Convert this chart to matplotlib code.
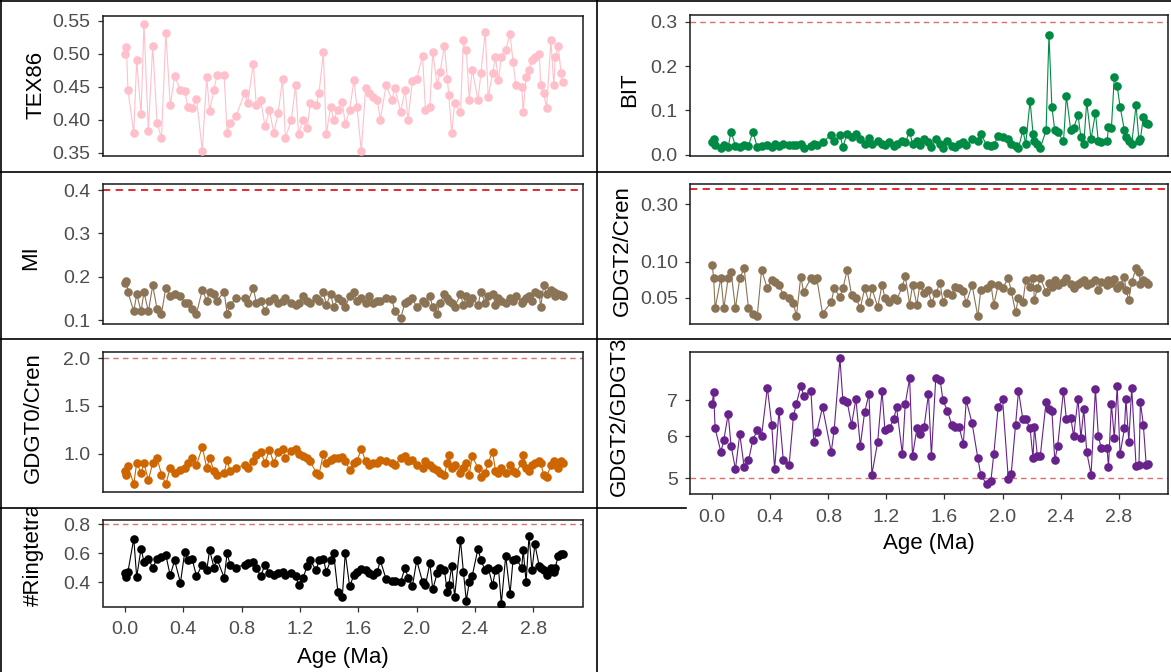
import matplotlib
matplotlib.use('Agg')
import matplotlib.pyplot as plt
from matplotlib.lines import Line2D
from matplotlib.transforms import Bbox, TransformedBbox
from matplotlib.ticker import FixedLocator, FixedFormatter, NullLocator

plt.rcParams['font.family'] = ['Liberation Sans', 'DejaVu Sans']

W, H = 1171, 672

# sample ages (Ma), shared by all proxies
age = [0.00, 0.01, 0.02, 0.06, 0.08, 0.11, 0.13, 0.16, 0.19, 0.22,
       0.25, 0.28, 0.31, 0.34, 0.38, 0.41, 0.43, 0.46, 0.49, 0.53,
       0.56, 0.58, 0.61, 0.63, 0.68, 0.70, 0.72, 0.76, 0.82, 0.84,
       0.88, 0.90, 0.93, 0.96, 0.99, 1.02, 1.05, 1.08, 1.10, 1.14,
       1.17, 1.19, 1.22, 1.25, 1.27, 1.31, 1.33, 1.36, 1.38, 1.41,
       1.43, 1.46, 1.49, 1.51, 1.54, 1.57, 1.59, 1.62, 1.65, 1.67,
       1.70, 1.73, 1.75, 1.79, 1.83, 1.85, 1.89, 1.92, 1.94, 1.97,
       2.00, 2.04, 2.06, 2.09, 2.11, 2.14, 2.16, 2.19, 2.21, 2.22,
       2.24, 2.26, 2.30, 2.32, 2.34, 2.36, 2.38, 2.42, 2.44, 2.47,
       2.49, 2.52, 2.54, 2.56, 2.58, 2.61, 2.64, 2.66, 2.68, 2.72,
       2.73, 2.75, 2.77, 2.79, 2.81, 2.84, 2.85, 2.87, 2.89, 2.92,
       2.94, 2.95, 2.97, 2.99, 3.00]

tex86 = [0.500, 0.510, 0.445, 0.380, 0.490, 0.408, 0.545, 0.383, 0.512, 0.395,
         0.372, 0.532, 0.422, 0.466, 0.445, 0.443, 0.420, 0.417, 0.432, 0.353,
         0.465, 0.413, 0.445, 0.468, 0.467, 0.380, 0.395, 0.405, 0.440, 0.425,
         0.485, 0.422, 0.430, 0.390, 0.415, 0.380, 0.410, 0.462, 0.372, 0.400,
         0.452, 0.378, 0.400, 0.388, 0.425, 0.422, 0.440, 0.502, 0.378, 0.420,
         0.400, 0.415, 0.427, 0.393, 0.415, 0.460, 0.420, 0.353, 0.448, 0.440,
         0.435, 0.430, 0.400, 0.452, 0.430, 0.448, 0.412, 0.445, 0.400, 0.458,
         0.462, 0.497, 0.415, 0.420, 0.503, 0.452, 0.472, 0.512, 0.462, 0.437,
         0.380, 0.425, 0.412, 0.520, 0.505, 0.430, 0.476, 0.430, 0.470, 0.533,
         0.435, 0.470, 0.495, 0.460, 0.495, 0.505, 0.530, 0.488, 0.452, 0.450,
         0.412, 0.465, 0.475, 0.490, 0.495, 0.500, 0.453, 0.440, 0.418, 0.520,
         0.452, 0.495, 0.512, 0.470, 0.457]

bit = [0.028, 0.035, 0.022, 0.015, 0.022, 0.018, 0.052, 0.020, 0.018, 0.022,
       0.020, 0.052, 0.018, 0.020, 0.022, 0.018, 0.025, 0.020, 0.025, 0.022,
       0.022, 0.022, 0.025, 0.015, 0.020, 0.025, 0.022, 0.028, 0.045, 0.030,
       0.045, 0.018, 0.048, 0.040, 0.048, 0.035, 0.025, 0.038, 0.025, 0.030,
       0.025, 0.022, 0.028, 0.020, 0.025, 0.030, 0.028, 0.052, 0.025, 0.030,
       0.022, 0.035, 0.028, 0.018, 0.035, 0.025, 0.015, 0.030, 0.020, 0.018,
       0.025, 0.028, 0.022, 0.035, 0.030, 0.048, 0.022, 0.020, 0.022, 0.042,
       0.040, 0.035, 0.025, 0.020, 0.015, 0.055, 0.025, 0.122, 0.048, 0.030,
       0.025, 0.015, 0.055, 0.270, 0.108, 0.055, 0.052, 0.030, 0.133, 0.055,
       0.060, 0.090, 0.040, 0.025, 0.120, 0.035, 0.095, 0.030, 0.028, 0.030,
       0.062, 0.060, 0.175, 0.155, 0.108, 0.055, 0.040, 0.030, 0.025, 0.112,
       0.030, 0.035, 0.085, 0.072, 0.070]

mi = [0.185, 0.190, 0.165, 0.120, 0.160, 0.120, 0.165, 0.120, 0.180, 0.125,
      0.115, 0.175, 0.155, 0.160, 0.155, 0.140, 0.140, 0.125, 0.115, 0.170,
      0.145, 0.165, 0.160, 0.145, 0.165, 0.115, 0.135, 0.150, 0.150, 0.140,
      0.175, 0.140, 0.145, 0.120, 0.145, 0.150, 0.140, 0.145, 0.150, 0.140,
      0.135, 0.140, 0.155, 0.145, 0.140, 0.150, 0.145, 0.165, 0.135, 0.160,
      0.130, 0.150, 0.145, 0.130, 0.155, 0.165, 0.145, 0.150, 0.140, 0.155,
      0.140, 0.145, 0.145, 0.150, 0.148, 0.120, 0.105, 0.140, 0.145, 0.150,
      0.130, 0.145, 0.140, 0.155, 0.130, 0.115, 0.140, 0.160, 0.150, 0.145,
      0.140, 0.130, 0.160, 0.135, 0.155, 0.140, 0.150, 0.135, 0.165, 0.140,
      0.155, 0.160, 0.135, 0.150, 0.145, 0.140, 0.150, 0.145, 0.155, 0.140,
      0.145, 0.150, 0.155, 0.145, 0.165, 0.160, 0.130, 0.180, 0.160, 0.170,
      0.165, 0.155, 0.160, 0.158, 0.155]

gdgt2_cren = [0.094, 0.073, 0.041, 0.073, 0.041, 0.073, 0.082, 0.041, 0.073, 0.088,
              0.041, 0.037, 0.035, 0.085, 0.060, 0.070, 0.068, 0.064, 0.053, 0.050,
              0.045, 0.035, 0.075, 0.056, 0.073, 0.070, 0.073, 0.037, 0.046, 0.060,
              0.051, 0.060, 0.085, 0.053, 0.050, 0.041, 0.060, 0.046, 0.060, 0.042,
              0.064, 0.050, 0.046, 0.050, 0.048, 0.062, 0.076, 0.044, 0.064, 0.044,
              0.064, 0.055, 0.058, 0.045, 0.055, 0.066, 0.046, 0.055, 0.053, 0.062,
              0.060, 0.057, 0.045, 0.064, 0.035, 0.058, 0.060, 0.065, 0.044, 0.064,
              0.060, 0.073, 0.057, 0.038, 0.050, 0.046, 0.070, 0.062, 0.073, 0.048,
              0.060, 0.073, 0.056, 0.066, 0.062, 0.070, 0.064, 0.068, 0.073, 0.065,
              0.060, 0.065, 0.068, 0.070, 0.064, 0.066, 0.070, 0.058, 0.068, 0.064,
              0.070, 0.066, 0.072, 0.060, 0.064, 0.075, 0.058, 0.048, 0.068, 0.088,
              0.082, 0.065, 0.070, 0.068, 0.065]

gdgt0_cren = [0.82, 0.78, 0.87, 0.68, 0.90, 0.80, 0.90, 0.72, 0.90, 0.95,
              0.78, 0.68, 0.85, 0.80, 0.83, 0.85, 0.90, 0.95, 0.88, 1.07,
              0.85, 0.95, 0.82, 0.78, 0.80, 0.93, 0.82, 0.85, 0.88, 0.85,
              0.92, 0.98, 1.02, 0.90, 1.04, 0.90, 1.02, 1.05, 0.95, 1.03,
              1.05, 1.00, 0.97, 0.95, 0.92, 0.80, 0.78, 1.00, 0.90, 0.93,
              0.95, 0.95, 0.96, 0.92, 0.83, 0.90, 0.92, 1.05, 0.92, 0.88,
              0.90, 0.90, 0.93, 0.92, 0.90, 0.88, 0.95, 0.97, 0.92, 0.93,
              0.88, 0.85, 0.92, 0.88, 0.85, 0.83, 0.80, 0.78, 0.90, 0.98,
              0.85, 0.88, 0.80, 0.85, 0.90, 0.78, 0.97, 0.85, 0.75, 0.80,
              0.90, 1.02, 0.82, 0.80, 0.85, 0.80, 0.88, 0.82, 0.80, 0.90,
              0.98, 0.85, 0.82, 0.88, 0.90, 0.92, 0.90, 0.78, 0.75, 0.88,
              0.92, 0.90, 0.85, 0.92, 0.90]

gdgt2_gdgt3 = [6.90, 7.25, 6.20, 5.60, 5.90, 6.60, 5.75, 5.20, 6.05, 5.25,
               5.40, 5.90, 6.15, 6.00, 7.40, 6.30, 5.20, 6.70, 5.40, 5.30,
               6.55, 6.90, 7.45, 7.15, 7.30, 5.85, 6.10, 6.80, 5.60, 6.15,
               8.40, 7.00, 6.95, 6.30, 7.05, 5.75, 6.65, 7.20, 5.08, 5.85,
               7.30, 6.15, 6.20, 6.45, 6.80, 5.55, 6.90, 7.70, 5.50, 6.20,
               6.05, 6.25, 7.20, 5.50, 7.70, 7.65, 7.00, 6.70, 6.30, 6.25,
               6.25, 5.80, 7.00, 6.35, 5.45, 5.08, 4.87, 4.95, 5.55, 6.80,
               7.05, 4.98, 5.10, 6.30, 7.30, 6.45, 6.45, 6.20, 5.45, 6.25,
               5.50, 5.50, 6.95, 6.75, 6.70, 5.40, 5.75, 7.30, 6.45, 6.50,
               6.00, 7.05, 5.95, 6.75, 5.60, 5.08, 7.35, 6.00, 5.70, 5.70,
               5.25, 6.90, 5.95, 7.45, 5.55, 6.20, 7.05, 5.85, 7.40, 5.27,
               5.30, 6.95, 6.30, 5.30, 5.32]

ringtetra = [0.46, 0.435, 0.47, 0.70, 0.435, 0.63, 0.54, 0.56, 0.50, 0.56,
             0.57, 0.585, 0.445, 0.55, 0.395, 0.61, 0.55, 0.56, 0.44, 0.52,
             0.48, 0.62, 0.50, 0.56, 0.43, 0.60, 0.52, 0.50, 0.52, 0.53,
             0.54, 0.50, 0.44, 0.52, 0.46, 0.45, 0.46, 0.47, 0.45, 0.46,
             0.44, 0.38, 0.43, 0.51, 0.55, 0.48, 0.55, 0.56, 0.47, 0.55,
             0.60, 0.33, 0.30, 0.60, 0.37, 0.45, 0.47, 0.49, 0.48, 0.46,
             0.45, 0.47, 0.55, 0.42, 0.41, 0.41, 0.40, 0.50, 0.43, 0.37,
             0.55, 0.40, 0.38, 0.53, 0.35, 0.46, 0.50, 0.48, 0.33, 0.38,
             0.51, 0.30, 0.69, 0.47, 0.27, 0.40, 0.44, 0.63, 0.55, 0.48,
             0.50, 0.38, 0.48, 0.50, 0.25, 0.58, 0.32, 0.55, 0.56, 0.50,
             0.62, 0.40, 0.72, 0.48, 0.66, 0.51, 0.50, 0.48, 0.45, 0.50,
             0.47, 0.50, 0.58, 0.59, 0.59]

age_ticks = [0.0, 0.4, 0.8, 1.2, 1.6, 2.0, 2.4, 2.8]

TICK_GREY = '#4D4D4D'
RED_SOFT = '#D9706F'
RED_HARD = '#E3191C'


def fig_rect(x0, y0, x1, y1):
    # pixel box (origin top-left) -> figure fraction
    return [x0 / W, 1 - y1 / H, (x1 - x0) / W, (y1 - y0) / H]


def draw_panel(fig, p):
    ax = fig.add_axes(fig_rect(*p['box']))
    ax.plot(age, p['values'], '-', color=p['color'], lw=0.8, zorder=2)
    ax.plot(age, p['values'], 'o', color=p['color'], ms=6.2, mew=0, zorder=3)
    if p['hline'] is not None:
        ax.axhline(p['hline'], color=p['hcolor'], lw=p['hlw'], ls=(0, (4, 3)), zorder=1)
    if p['log']:
        ax.set_yscale('log')
    ax.set_xlim(-0.153, 3.14)
    ax.set_ylim(*p['ylim'])
    ax.yaxis.set_major_locator(FixedLocator(p['yticks']))
    ax.yaxis.set_major_formatter(FixedFormatter([p['fmt'].format(v) for v in p['yticks']]))
    ax.yaxis.set_minor_locator(NullLocator())
    if p['bottom']:
        ax.set_xticks(age_ticks)
        ax.set_xticklabels([f'{v:.1f}' for v in age_ticks])
    else:
        ax.set_xticks([])
    ax.tick_params(axis='both', labelsize=14, labelcolor=TICK_GREY, color='#333333',
                   length=3.3, width=0.9, pad=5.5)
    ax.tick_params(axis='x', pad=7.5)
    for s in ax.spines.values():
        s.set_linewidth(1.1)
        s.set_color('#1A1A1A')

    # y label, clipped to its own panel like the pasted original
    lx, ly = p['label_at']
    cx0, cy0, cx1, cy1 = p['cell']
    clip = TransformedBbox(Bbox([[cx0 / W, 1 - cy1 / H], [cx1 / W, 1 - cy0 / H]]),
                           fig.transFigure)
    t = fig.text(lx / W, 1 - ly / H, p['label'], rotation=90, ha='center', va='center',
                 fontsize=16, color='black')
    t.set_clip_box(clip)
    t.set_clip_on(True)
    if p['bottom']:
        fig.text(p['xlabel_at'][0] / W, 1 - p['xlabel_at'][1] / H, 'Age (Ma)',
                 ha='center', va='center', fontsize=16, color='black')
    return ax


def main():
    fig = plt.figure(figsize=(W / 100, H / 100), dpi=100)
    fig.patch.set_facecolor('white')

    LB = (102.7, 583.0)
    RB = (690.0, 1168.0)
    panels = [
        dict(label='TEX86', values=tex86, color='#FFC0CB', box=(LB[0], 15.7, LB[1], 155.7),
             ylim=(0.3455, 0.5575), yticks=[0.35, 0.40, 0.45, 0.50, 0.55], fmt='{:.2f}',
             log=False, hline=None, label_at=(36, 85), cell=(0, 0, 596, 172), bottom=False),
        dict(label='MI', values=mi, color='#8B7355', box=(LB[0], 184, LB[1], 324),
             ylim=(0.091, 0.414), yticks=[0.1, 0.2, 0.3, 0.4], fmt='{:.1f}',
             log=False, hline=0.4, hcolor=RED_HARD, hlw=1.3, label_at=(31, 258),
             cell=(0, 172, 596, 339), bottom=False),
        dict(label='GDGT0/Cren', values=gdgt0_cren, color='#CD6600', box=(LB[0], 351.7, LB[1], 492),
             ylim=(0.597, 2.067), yticks=[1.0, 1.5, 2.0], fmt='{:.1f}',
             log=False, hline=2.0, hcolor=RED_SOFT, hlw=1.0, label_at=(33, 418),
             cell=(0, 339, 596, 508), bottom=False),
        dict(label='#Ringtetra', values=ringtetra, color='black', box=(LB[0], 520, LB[1], 606.5),
             ylim=(0.231, 0.828), yticks=[0.4, 0.6, 0.8], fmt='{:.1f}',
             log=False, hline=0.8, hcolor=RED_SOFT, hlw=1.0, label_at=(33, 555),
             cell=(0, 508, 596, 672), bottom=True, xlabel_at=(343, 657)),
        dict(label='BIT', values=bit, color='#008B45', box=(RB[0], 15, RB[1], 155.7),
             ylim=(-0.002, 0.315), yticks=[0.0, 0.1, 0.2, 0.3], fmt='{:.1f}',
             log=False, hline=0.3, hcolor=RED_SOFT, hlw=1.0, label_at=(630, 90),
             cell=(596, 0, W, 172), bottom=False),
        dict(label='GDGT2/Cren', values=gdgt2_cren, color='#8B7355', box=(RB[0], 184, RB[1], 324),
             ylim=(0.0303, 0.443), yticks=[0.05, 0.10, 0.30], fmt='{:.2f}',
             log=True, hline=0.4, hcolor=RED_HARD, hlw=1.3, label_at=(622, 251),
             cell=(596, 172, W, 339), bottom=False),
        dict(label='GDGT2/GDGT3', values=gdgt2_gdgt3, color='#68228B', box=(RB[0], 352, RB[1], 493.5),
             ylim=(4.68, 8.63), yticks=[5, 6, 7], fmt='{:.0f}',
             log=True, hline=5, hcolor=RED_SOFT, hlw=1.0, label_at=(619, 416),
             cell=(596, 339, W, H), bottom=True, xlabel_at=(929, 543)),
    ]
    for p in panels:
        draw_panel(fig, p)

    # black cell borders of the pasted layout
    borders = [
        ((0, W), (0.8, 0.8)),
        ((0.8, 0.8), (0, H)),
        ((596.5, 596.5), (0, H)),
        ((0, W), (171.7, 171.7)),
        ((0, W), (339, 339)),
        ((0, 686), (508, 508)),
    ]
    for xs, ys in borders:
        fig.add_artist(Line2D([x / W for x in xs], [1 - y / H for y in ys],
                              transform=fig.transFigure, color='black', lw=1.2))

    plt.savefig('out.png', dpi=100)


if __name__ == '__main__':
    main()
